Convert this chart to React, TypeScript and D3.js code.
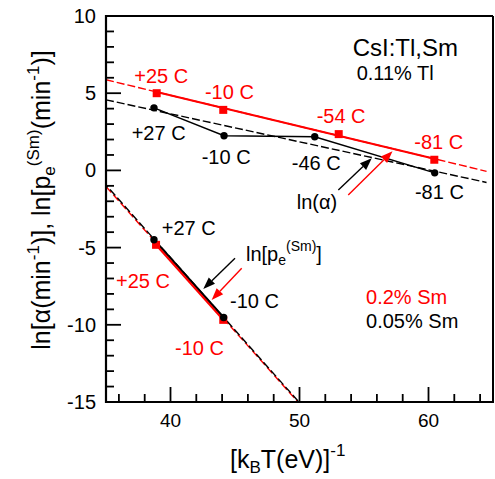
import React from "react";
import * as d3 from "d3";

// ---------- data ----------
const xDomain = [35, 65];
const yDomain = [-15, 10];
const xMajorTicks = [40, 50, 60];
const yMajorTicks = [10, 5, 0, -5, -10, -15];

// ln(alpha) – 0.2% Sm (red squares)
const alphaRedX = [38.93, 44.09, 53.04, 60.45];
const alphaRedY = [5.0, 3.92, 2.35, 0.69];
const alphaRedLabels = ["+25 C", "-10 C", "-54 C", "-81 C"];
const alphaRedLabelX = [37.19, 42.67, 51.33, 58.9];
const alphaRedLabelY = [5.64, 4.62, 3.05, 1.39];
const alphaRedFit = [[35, 5.87], [64.5, -0.06]];

// ln(alpha) – 0.05% Sm (black circles)
const alphaBlackX = [38.72, 44.15, 51.18, 60.48];
const alphaBlackY = [4.05, 2.24, 2.18, -0.16];
const alphaBlackLabels = ["+27 C", "-10 C", "-46 C", "-81 C"];
const alphaBlackLabelX = [36.99, 42.42, 49.4, 58.95];
const alphaBlackLabelY = [1.97, 0.4, 0.03, -1.85];
const alphaBlackFit = [[35, 4.57], [64.5, -0.78]];

// ln(pe) – 0.2% Sm (red squares)
const peRedX = [38.88, 44.09];
const peRedY = [-4.82, -9.68];
const peRedLabels = ["+25 C", "-10 C"];
const peRedLabelX = [35.78, 40.35];
const peRedLabelY = [-7.64, -11.96];
const peRedFit = [[35, -1.05], [49.88, -15]];

// ln(pe) – 0.05% Sm (black circles)
const peBlackX = [38.72, 44.12];
const peBlackY = [-4.49, -9.53];
const peBlackLabels = ["+27 C", "-10 C"];
const peBlackLabelX = [39.32, 44.61];
const peBlackLabelY = [-4.18, -8.89];
const peBlackFit = [[35, -0.95], [49.95, -15]];

// annotation arrows [tailX, tailY, tipX, tipY] in data units
const arrowsBlack = [[53.01, -1.27, 55.6, 0.78], [45.0, -5.69, 42.54, -7.68]];
const arrowsRed = [[53.78, -1.59, 57.21, 1.24], [45.52, -6.34, 43.19, -8.39]];

const RED = "#ff0000";
const FONT = "'Liberation Sans', Arial, Helvetica, sans-serif";

export default function App() {
  const W = 495, H = 479;
  const L = 106, R = 493, T = 16, B = 402;
  const x = d3.scaleLinear().domain(xDomain).range([L, R]);
  const y = d3.scaleLinear().domain(yDomain).range([B, T]);
  const line = d3.line<number[]>().x((d) => x(d[0])).y((d) => y(d[1]));

  const xMinor = d3.range(36, 65, 2).filter((v) => !xMajorTicks.includes(v));
  const yMinor = d3.range(-14, 10, 1).filter((v) => !yMajorTicks.includes(v));

  const interpFit = (fit: number[][], xv: number) => {
    const [a, b] = fit;
    return a[1] + ((b[1] - a[1]) * (xv - a[0])) / (b[0] - a[0]);
  };

  const arrowHead = (a: number[], color: string, key: string) => {
    const x0 = x(a[0]), y0 = y(a[1]), x1 = x(a[2]), y1 = y(a[3]);
    const dx = x1 - x0, dy = y1 - y0;
    const len = Math.hypot(dx, dy);
    const ux = dx / len, uy = dy / len;
    const hl = 12, hw = 4.5;
    const bx = x1 - ux * hl, by = y1 - uy * hl;
    const pts = [
      [x1, y1],
      [bx - uy * hw, by + ux * hw],
      [bx + uy * hw, by - ux * hw],
    ];
    return (
      <g key={key}>
        <line x1={x0} y1={y0} x2={bx} y2={by} stroke={color} strokeWidth={1.4} />
        <polygon points={pts.map((p) => p.join(",")).join(" ")} fill={color} />
      </g>
    );
  };

  const redAlphaSolid = [
    [alphaRedX[0], interpFit(alphaRedFit, alphaRedX[0])],
    [alphaRedX[alphaRedX.length - 1], interpFit(alphaRedFit, alphaRedX[alphaRedX.length - 1])],
  ];

  const fs = 20;

  return (
    <svg
      width={W}
      height={H}
      style={{ position: "absolute", left: 0, top: 0, background: "#fff" }}
      fontFamily={FONT}
    >
      <rect x={0} y={0} width={W} height={H} fill="#fff" />
      {/* dashed fit lines */}
      <path d={line(alphaBlackFit)!} fill="none" stroke="#000" strokeWidth={1.4} strokeDasharray="8,3" />
      <path d={line(alphaRedFit)!} fill="none" stroke={RED} strokeWidth={1.4} strokeDasharray="8,3" />
      <path d={line(peRedFit)!} fill="none" stroke={RED} strokeWidth={1.4} strokeDasharray="8,3" />
      <path d={line(peBlackFit)!} fill="none" stroke="#000" strokeWidth={1.4} strokeDasharray="8,3" strokeDashoffset={5} />

      {/* solid lines */}
      <path d={line(redAlphaSolid)!} fill="none" stroke={RED} strokeWidth={2} />
      <path
        d={line(alphaBlackX.map((v, i) => [v, alphaBlackY[i]]))!}
        fill="none"
        stroke="#000"
        strokeWidth={1.5}
      />
      <path d={line(peBlackX.map((v, i) => [v, peBlackY[i]]))!} fill="none" stroke="#000" strokeWidth={2.2} />
      <path d={line(peRedX.map((v, i) => [v, peRedY[i]]))!} fill="none" stroke={RED} strokeWidth={2.2} />

      {/* markers */}
      {alphaRedX.map((v, i) => (
        <rect key={"ar" + i} x={x(v) - 4} y={y(alphaRedY[i]) - 4} width={8} height={8} fill={RED} />
      ))}
      {peRedX.map((v, i) => (
        <rect key={"pr" + i} x={x(v) - 4} y={y(peRedY[i]) - 4} width={8} height={8} fill={RED} />
      ))}
      {alphaBlackX.map((v, i) => (
        <circle key={"ab" + i} cx={x(v)} cy={y(alphaBlackY[i])} r={3.7} fill="#000" />
      ))}
      {peBlackX.map((v, i) => (
        <circle key={"pb" + i} cx={x(v)} cy={y(peBlackY[i])} r={3.7} fill="#000" />
      ))}

      {/* arrows */}
      {arrowsBlack.map((a, i) => arrowHead(a, "#000", "abk" + i))}
      {arrowsRed.map((a, i) => arrowHead(a, RED, "ard" + i))}

      {/* point labels */}
      {alphaRedLabels.map((t, i) => (
        <text key={"arl" + i} x={x(alphaRedLabelX[i])} y={y(alphaRedLabelY[i])} fontSize={fs} fill={RED}>{t}</text>
      ))}
      {alphaBlackLabels.map((t, i) => (
        <text key={"abl" + i} x={x(alphaBlackLabelX[i])} y={y(alphaBlackLabelY[i])} fontSize={fs} fill="#000">{t}</text>
      ))}
      {peRedLabels.map((t, i) => (
        <text key={"prl" + i} x={x(peRedLabelX[i])} y={y(peRedLabelY[i])} fontSize={fs} fill={RED}>{t}</text>
      ))}
      {peBlackLabels.map((t, i) => (
        <text key={"pbl" + i} x={x(peBlackLabelX[i])} y={y(peBlackLabelY[i])} fontSize={fs} fill="#000">{t}</text>
      ))}

      {/* curve labels */}
      <text x={x(49.79)} y={y(-2.5)} fontSize={fs}>ln(α)</text>
      <text x={x(45.85)} y={y(-5.87)} fontSize={fs}>
        ln[p
        <tspan fontSize={14} dy={4}>e</tspan>
        <tspan fontSize={14} dy={-14}>(Sm)</tspan>
        <tspan dy={10}>]</tspan>
      </text>
      <text x={x(54.12)} y={y(7.41)} fontSize={24}>CsI:Tl,Sm</text>
      <text x={x(54.43)} y={y(5.84)} fontSize={fs}>0.11% Tl</text>
      <text x={x(55.16)} y={y(-8.65)} fontSize={fs} fill={RED}>0.2% Sm</text>
      <text x={x(55.16)} y={y(-10.19)} fontSize={fs}>0.05% Sm</text>

      {/* frame */}
      <line x1={L} y1={T} x2={R} y2={T} stroke="#000" strokeWidth={2} />
      <line x1={R} y1={T} x2={R} y2={B} stroke="#000" strokeWidth={2} />
      <line x1={L} y1={T - 1} x2={L} y2={B + 1} stroke="#000" strokeWidth={2.2} />
      <line x1={L - 1} y1={B} x2={R + 1} y2={B} stroke="#000" strokeWidth={2.2} />

      {/* ticks */}
      {xMajorTicks.map((v) => (
        <line key={"xM" + v} x1={x(v)} x2={x(v)} y1={B} y2={B - 15} stroke="#000" strokeWidth={1.8} />
      ))}
      {xMinor.map((v) => (
        <line key={"xm" + v} x1={x(v)} x2={x(v)} y1={B} y2={B - 8} stroke="#000" strokeWidth={1.8} />
      ))}
      {yMajorTicks.map((v) => (
        <line key={"yM" + v} x1={L} x2={L + 15} y1={y(v)} y2={y(v)} stroke="#000" strokeWidth={1.8} />
      ))}
      {yMinor.map((v) => (
        <line key={"ym" + v} x1={L} x2={L + 8} y1={y(v)} y2={y(v)} stroke="#000" strokeWidth={1.8} />
      ))}

      {/* tick labels */}
      {xMajorTicks.map((v) => (
        <text key={"xl" + v} x={x(v)} y={B + 25} fontSize={19} textAnchor="middle">{v}</text>
      ))}
      {yMajorTicks.map((v) => (
        <text key={"yl" + v} x={L - 10} y={y(v)} dy="0.35em" fontSize={20} textAnchor="end">{v}</text>
      ))}

      {/* axis titles */}
      <text x={230} y={468} fontSize={25}>
        [k<tspan fontSize={17} dy={5}>B</tspan>
        <tspan dy={-5}>T(eV)]</tspan>
        <tspan fontSize={17} dy={-12}>-1</tspan>
      </text>
      <text transform="translate(50,200) rotate(-90)" textAnchor="middle" fontSize={25}>
        ln[α(min<tspan fontSize={17} dy={-11}>-1</tspan>
        <tspan dy={11}>)], ln[p</tspan>
        <tspan fontSize={17} dy={5}>e</tspan>
        <tspan fontSize={17} dy={-16}>(Sm)</tspan>
        <tspan dy={11}>(min</tspan>
        <tspan fontSize={17} dy={-11}>-1</tspan>
        <tspan dy={11}>)]</tspan>
      </text>
    </svg>
  );
}
